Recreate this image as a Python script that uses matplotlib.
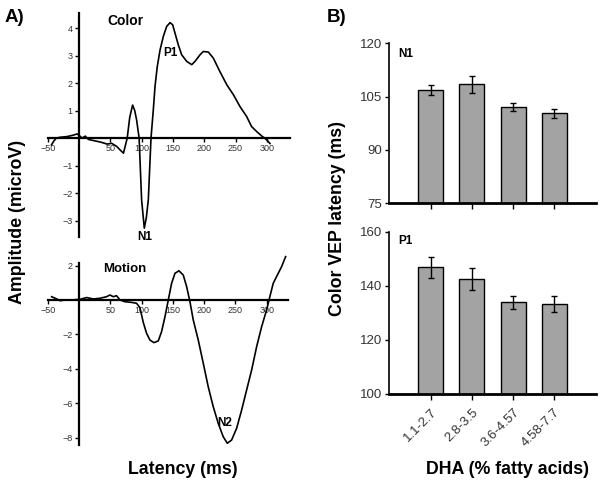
import matplotlib
matplotlib.use("Agg")
import matplotlib.pyplot as plt

plt.rcParams['font.family'] = ['Liberation Sans', 'DejaVu Sans']

# ---------------- data ----------------
color_t = [-44, -40, -36, -30, -20, -10, -3, 0, 5, 10, 15, 25, 35, 45, 52, 60, 65.5, 71, 77,
           81, 85.6, 89, 92, 96, 100, 104.3, 107.5, 110.7, 115, 118.7, 121.4, 125, 129.4,
           134.7, 140, 145.4, 149.6, 153.3, 158.6, 164, 172, 180, 185.3, 193.3, 198.6,
           206.5, 214.5, 225, 236, 246.5, 257, 267.6, 275.6, 283.6, 291.6, 299.6, 305]
color_v = [-0.25, -0.1, 0.0, 0.03, 0.05, 0.1, 0.15, 0.1, 0.0, 0.07, -0.05, -0.1, -0.15, -0.22,
           -0.19, -0.3, -0.43, -0.55, 0.0, 0.75, 1.2, 1.0, 0.66, 0.0, -2.25, -3.28, -2.9,
           -2.25, 0.0, 1.03, 1.88, 2.6, 3.2, 3.7, 4.06, 4.2, 4.12, 3.82, 3.39, 3.03, 2.79,
           2.67, 2.79, 3.03, 3.15, 3.13, 2.91, 2.42, 1.94, 1.58, 1.15, 0.79, 0.42, 0.24,
           0.08, -0.06, -0.2]

motion_t = [-43.7, -38, -30, -22, -11.7, 1.6, 12.3, 23, 33.5, 44, 49.5, 54.8, 60, 65.5, 73.5,
            84, 92, 97.4, 102.7, 108, 113.4, 119.8, 126.7, 132, 137.4, 142.7, 148, 153.4,
            159.7, 166.6, 172, 177.3, 182.6, 190.6, 198.6, 206.5, 214.5, 222.5, 230.5, 237,
            243.9, 251.9, 259.9, 267.9, 275.9, 283.9, 291.9, 299.8, 305, 310.4, 318.4, 323.8,
            330.2]
motion_v = [0.19, 0.1, -0.04, 0.0, 0.0, 0.04, 0.14, 0.06, 0.1, 0.19, 0.29, 0.19, 0.25, 0.0,
            -0.1, -0.14, -0.19, -0.45, -1.3, -1.94, -2.33, -2.48, -2.38, -1.84, -0.97, 0.0,
            0.97, 1.55, 1.7, 1.45, 0.78, -0.1, -1.16, -2.33, -3.68, -5.04, -6.2, -7.17, -7.95,
            -8.33, -8.14, -7.46, -6.4, -5.23, -4.07, -2.71, -1.55, -0.58, 0.19, 0.97, 1.55,
            1.94, 2.52]

dha_groups = ["1.1-2.7", "2.8-3.5", "3.6-4.57", "4.58-7.7"]
n1_latency = [106.9, 108.5, 102.1, 100.3]
n1_err = [1.4, 2.4, 1.1, 1.3]
p1_latency = [146.9, 142.6, 134.0, 133.3]
p1_err = [3.9, 4.0, 2.4, 3.1]

# ---------------- layout ----------------
W, H = 600, 484
fig = plt.figure(figsize=(W / 100, H / 100), dpi=100)


def add_px_axes(l, t, r, b):
    return fig.add_axes([l / W, 1 - b / H, (r - l) / W, (b - t) / H])


TICK_COL = '#333333'


def style_wave(ax, yticks):
    for s in ['top', 'right']:
        ax.spines[s].set_visible(False)
    ax.spines['left'].set_position(('data', 0))
    ax.spines['bottom'].set_position(('data', 0))
    ax.spines['left'].set_linewidth(1.6)
    ax.spines['bottom'].set_linewidth(1.6)
    ax.set_xticks([-50, 50, 100, 150, 200, 250, 300])
    ax.set_yticks(yticks)
    ax.tick_params(axis='both', direction='out', length=3, width=1, labelsize=6.5,
                   labelcolor=TICK_COL, pad=1.5)
    ax.patch.set_alpha(0)


# Color VEP waveform
ax1 = add_px_axes(47.7, 13, 290, 237)
ax1.plot(color_t, color_v, color='black', lw=1.2, clip_on=False)
ax1.set_xlim(-50, 337)
ax1.set_ylim(-3.6, 4.55)
style_wave(ax1, [-3, -2, -1, 1, 2, 3, 4])
ax1.text(73.5, 4.25, 'Color', fontsize=10, fontweight='bold', ha='center', va='center')
ax1.text(146, 3.1, 'P1', fontsize=8.5, fontweight='bold', ha='center', va='center')
ax1.text(105, -3.6, 'N1', fontsize=8.5, fontweight='bold', ha='center', va='center',
         clip_on=False)

# Motion VEP waveform
ax2 = add_px_axes(47.7, 263, 288, 445)
ax2.plot(motion_t, motion_v, color='black', lw=1.2, clip_on=False)
ax2.set_xlim(-50, 334)
ax2.set_ylim(-8.43, 2.15)
style_wave(ax2, [-8, -6, -4, -2, 2])
ax2.text(73.5, 1.8, 'Motion', fontsize=9.5, fontweight='bold', ha='center', va='center')
ax2.text(233, -7.15, 'N2', fontsize=8.5, fontweight='bold', ha='center', va='center')

# Bar panels
BAR_COL = '#a3a3a3'
xpos = list(range(len(dha_groups)))


def style_bar(ax, ylim, yticks):
    for s in ['top', 'right']:
        ax.spines[s].set_visible(False)
    ax.spines['left'].set_linewidth(1.2)
    ax.spines['bottom'].set_linewidth(2.0)
    ax.set_xlim(-1.02, 4.02)
    ax.set_ylim(*ylim)
    ax.set_yticks(yticks)
    ax.set_xticks(xpos)
    ax.tick_params(axis='y', direction='out', length=3, width=1, labelsize=9.5,
                   labelcolor=TICK_COL, pad=2)
    ax.tick_params(axis='x', direction='out', length=4, width=1, labelsize=9.5,
                   labelcolor=TICK_COL)


ax3 = add_px_axes(389, 43.3, 596, 203.3)
ax3.bar(xpos, n1_latency, width=0.61, color=BAR_COL, edgecolor='black', linewidth=1.0)
ax3.errorbar(xpos, n1_latency, yerr=n1_err, fmt='none', ecolor='black', elinewidth=1,
             capsize=2, capthick=1)
style_bar(ax3, (75, 120), [75, 90, 105, 120])
ax3.set_xticklabels([])
ax3.text(-0.62, 117, 'N1', fontsize=8.5, fontweight='bold', ha='center', va='center')

ax4 = add_px_axes(389, 232, 596, 394)
ax4.bar(xpos, p1_latency, width=0.61, color=BAR_COL, edgecolor='black', linewidth=1.0)
ax4.errorbar(xpos, p1_latency, yerr=p1_err, fmt='none', ecolor='black', elinewidth=1,
             capsize=2, capthick=1)
style_bar(ax4, (100, 160), [100, 120, 140, 160])
ax4.set_xticklabels(dha_groups, rotation=45, ha='right', va='top', rotation_mode='anchor')
ax4.tick_params(axis='x', pad=5)
ax4.text(-0.62, 156.5, 'P1', fontsize=8.5, fontweight='bold', ha='center', va='center')

# Figure texts
fig.text(5 / W, 1 - 17 / H, 'A)', fontsize=13.5, fontweight='bold', ha='left', va='center')
fig.text(327 / W, 1 - 17 / H, 'B)', fontsize=13.5, fontweight='bold', ha='left', va='center')
fig.text(18 / W, 1 - 222 / H, 'Amplitude (microV)', fontsize=12.8, fontweight='bold',
         rotation=90, ha='center', va='center')
fig.text(183 / W, 1 - 470 / H, 'Latency (ms)', fontsize=12.8, fontweight='bold',
         ha='center', va='center')
fig.text(337 / W, 1 - 219 / H, 'Color VEP latency (ms)', fontsize=12.8, fontweight='bold',
         rotation=90, ha='center', va='center')
fig.text(508 / W, 1 - 469 / H, 'DHA (% fatty acids)', fontsize=12.8, fontweight='bold',
         ha='center', va='center')

fig.savefig('out.png', dpi=100)
